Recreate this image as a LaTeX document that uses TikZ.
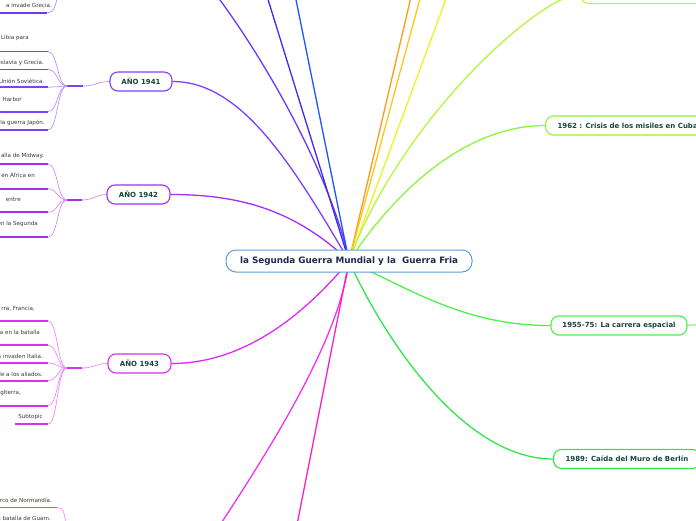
\documentclass[tikz,border=0pt]{standalone}
\usepackage{fontspec}
\setmainfont{DejaVu Sans}
\usetikzlibrary{backgrounds}
\definecolor{cA}{HTML}{6B3AF7}
\definecolor{cB}{HTML}{3D2BF5}
\definecolor{cC}{HTML}{1F55FF}
\definecolor{cOr}{HTML}{FF9A1A}
\definecolor{cOY}{HTML}{FFC61A}
\definecolor{cY}{HTML}{E8F51F}
\definecolor{cYG}{HTML}{B8F53D}
\definecolor{cSix}{HTML}{8EF53D}
\definecolor{cFive}{HTML}{4EF04E}
\definecolor{cNine}{HTML}{2EE84A}
\definecolor{cPink}{HTML}{FF1FBF}
\definecolor{cMag}{HTML}{F033EE}
\definecolor{cFour}{HTML}{D92EF2}
\definecolor{cTwo}{HTML}{A52EF5}
\definecolor{cOne}{HTML}{8040FA}
\definecolor{cblue}{HTML}{5A9FD4}
\definecolor{ctext}{HTML}{1B2A4E}
\definecolor{ntext}{HTML}{17453A}
\definecolor{subgray}{HTML}{3A3A3A}
\tikzset{
  mainnode/.style={draw=#1, line width=1.1pt, rounded corners=8pt, fill=white,
    text=ntext, font=\fontsize{7}{8}\selectfont\bfseries, minimum height=19pt,
    inner xsep=0pt, inner ysep=0pt},
  subtext/.style={font=\fontsize{5.6}{6.7}\selectfont, text=subgray, inner sep=0pt, anchor=east},
  uline/.style={line width=1.8pt, draw=#1},
  twig/.style={line width=0.7pt, draw=#1!55},
  link/.style={line width=1.3pt, draw=#1},
}
\begin{document}
\begin{tikzpicture}[x=1pt,y=-1pt]
\useasboundingbox (0,0) rectangle (696,520);
\begin{scope}
\clip (0,0) rectangle (696,520);
% centre
\node[draw=cblue, line width=1pt, rounded corners=10pt, fill=white,
  minimum width=246pt, minimum height=22pt, inner sep=0pt, text=ctext,
  font=\fontsize{8.8}{10}\selectfont\bfseries] (ctr) at (349,261)
  {la Segunda Guerra Mundial y la~ Guerra Fria};
% main nodes
\node[mainnode=cOne, minimum width=62pt] (n41) at (141,81.5) {AÑO 1941};
\node[mainnode=cTwo, minimum width=63pt] (n42) at (138.5,194.5) {AÑO 1942};
\node[mainnode=cFour, minimum width=63pt] (n43) at (139.5,363.5) {AÑO 1943};
\node[mainnode=cYG, anchor=south west, minimum width=200pt] (ntr) at (580,4) {};
\node[mainnode=cSix, anchor=west, inner xsep=12pt] (n62) at (545,125.5) {1962 : Crisis de los misiles en Cuba};
\node[mainnode=cFive, minimum width=136pt] (n55) at (619,325.5) {1955-75: La carrera espacial};
\node[mainnode=cNine, anchor=west, inner xsep=12pt] (n89) at (553,459) {1989: Caída del Muro de Berlín};
% subtopic texts
\node[subtext] (s0) at (52,5) {a invade Grecia.};
\node[subtext] (s11) at (29,38) {Libia para};
\node[subtext] (s12) at (44,62.7) {oslavia y Grecia.};
\node[subtext] (s13) at (44.5,81) {Unión Soviética.};
\node[subtext] (s14) at (22,99) {l Harbor};
\node[subtext] (s15) at (45,123) {la guerra Japón.};
\node[subtext] (s21) at (44,156) {alla de Midway.};
\node[subtext] (s22) at (35,174.7) {en África en};
\node[subtext] (s23) at (21,200) {entre};
\node[subtext] (s24) at (38,224) {en la Segunda};
\node[subtext] (s31) at (35,308.7) {rra, Francia,};
\node[subtext] (s32) at (40,332.3) {a en la batalla};
\node[subtext] (s33) at (43,356.7) {s invaden Italia.};
\node[subtext] (s34) at (43,374.7) {de a los aliados.};
\node[subtext] (s35) at (21,393.3) {glterra,};
\node[subtext] (s36) at (43,417) {Subtopic};
\node[subtext] (s41) at (52,500.7) {arco de Normandía.};
\node[subtext] (s42) at (51,518) {a batalla de Guam.};
\end{scope}
\begin{pgfonlayer}{background}
\fill[white] (0,0) rectangle (696,520);
\clip (0,0) rectangle (696,520);
\coordinate (c) at (349,261);
% off-canvas ends
\coordinate (t1) at (205,-20);
\coordinate (t2) at (262,-20);
\coordinate (t3) at (292,-20);
\coordinate (t4) at (415,-20);
\coordinate (t5) at (425,-20);
\coordinate (t6) at (453,-20);
\coordinate (b1) at (210,540);
\coordinate (b2) at (293,545);
\coordinate (r55) at (700,324);
% main connectors
\draw[link=cA] (c) .. controls (335,190) and (275,70) .. (t1);
\draw[link=cB] (c) -- (t2);
\draw[link=cC] (c) -- (t3);
\draw[link=cOr] (c) -- (t4);
\draw[link=cOY] (c) -- (t5);
\draw[link=cY] (c) -- (t6);
\draw[link=cYG] (c) .. controls (400,120) and (540,-5) .. (ntr.west);
\draw[link=cSix] (c) .. controls (410,170) and (480,125.5) .. (n62.west);
\draw[link=cFive] (c) .. controls (420,295) and (470,325.5) .. (n55.west);
\draw[link=cFive!60] (n55.east) -- (r55);
\draw[link=cNine] (c) .. controls (380,330) and (460,459) .. (n89.west);
\draw[link=cOne] (n41.east) .. controls (240,81.5) and (290,160) .. (c);
\draw[link=cTwo] (n42.east) .. controls (240,194.5) and (295,210) .. (c);
\draw[link=cFour] (n43.east) .. controls (240,363.5) and (300,320) .. (c);
\draw[link=cMag] (c) .. controls (340,330) and (290,420) .. (b1);
\draw[link=cPink] (c) -- (b2);
% group 1940 (top)
\coordinate (a0) at (47,12.7);
\coordinate (j0) at (58,-8);
\draw[uline=cA] (-5,12.7) -- (a0);
\draw[twig=cA] (a0) .. controls (54,12.7) and (56,6) .. (j0);
% group 1941
\coordinate (j1a) at (67,86);
\coordinate (j1b) at (83,86);
\draw[twig=cOne] (n41.west) .. controls (98,81.5) and (95,86) .. (j1b);
\draw[uline=cOne] (j1b) -- (j1a);
\foreach \yy [count=\i] in {51.5,69.5,87.3,111.7,129.7} {
  \coordinate (a1\i) at (48,\yy);
  \draw[uline=cOne] (-5,\yy) -- (a1\i);
  \draw[twig=cOne] (j1a) .. controls (57,86) and (58,\yy) .. (a1\i);
}
% group 1942
\coordinate (j2a) at (67,200);
\coordinate (j2b) at (82,200);
\draw[twig=cTwo] (n42.west) .. controls (96,194.5) and (94,200) .. (j2b);
\draw[uline=cTwo] (j2b) -- (j2a);
\foreach \yy [count=\i] in {164,188.7,212.3,237.3} {
  \coordinate (a2\i) at (48,\yy);
  \draw[uline=cTwo] (-5,\yy) -- (a2\i);
  \draw[twig=cTwo] (j2a) .. controls (57,200) and (58,\yy) .. (a2\i);
}
% group 1943
\coordinate (j3a) at (67,368);
\coordinate (j3b) at (82,368);
\draw[twig=cFour] (n43.west) .. controls (96,363.5) and (94,368) .. (j3b);
\draw[uline=cFour] (j3b) -- (j3a);
\foreach \yy [count=\i] in {321,345.3,363,380.7,405.7} {
  \coordinate (a3\i) at (48,\yy);
  \draw[uline=cFour] (-5,\yy) -- (a3\i);
  \draw[twig=cFour] (j3a) .. controls (57,368) and (58,\yy) .. (a3\i);
}
\coordinate (a36) at (48,424);
\draw[uline=cFour] (15,424) -- (a36);
\draw[twig=cFour] (j3a) .. controls (57,368) and (58,424) .. (a36);
% bottom group
\coordinate (a4) at (57,507.5);
\coordinate (j4) at (66,528);
\draw[uline=cMag] (-5,507.5) -- (a4);
\draw[twig=cMag] (a4) .. controls (63,507.5) and (65,512) .. (j4);
\end{pgfonlayer}
\end{tikzpicture}
\end{document}
